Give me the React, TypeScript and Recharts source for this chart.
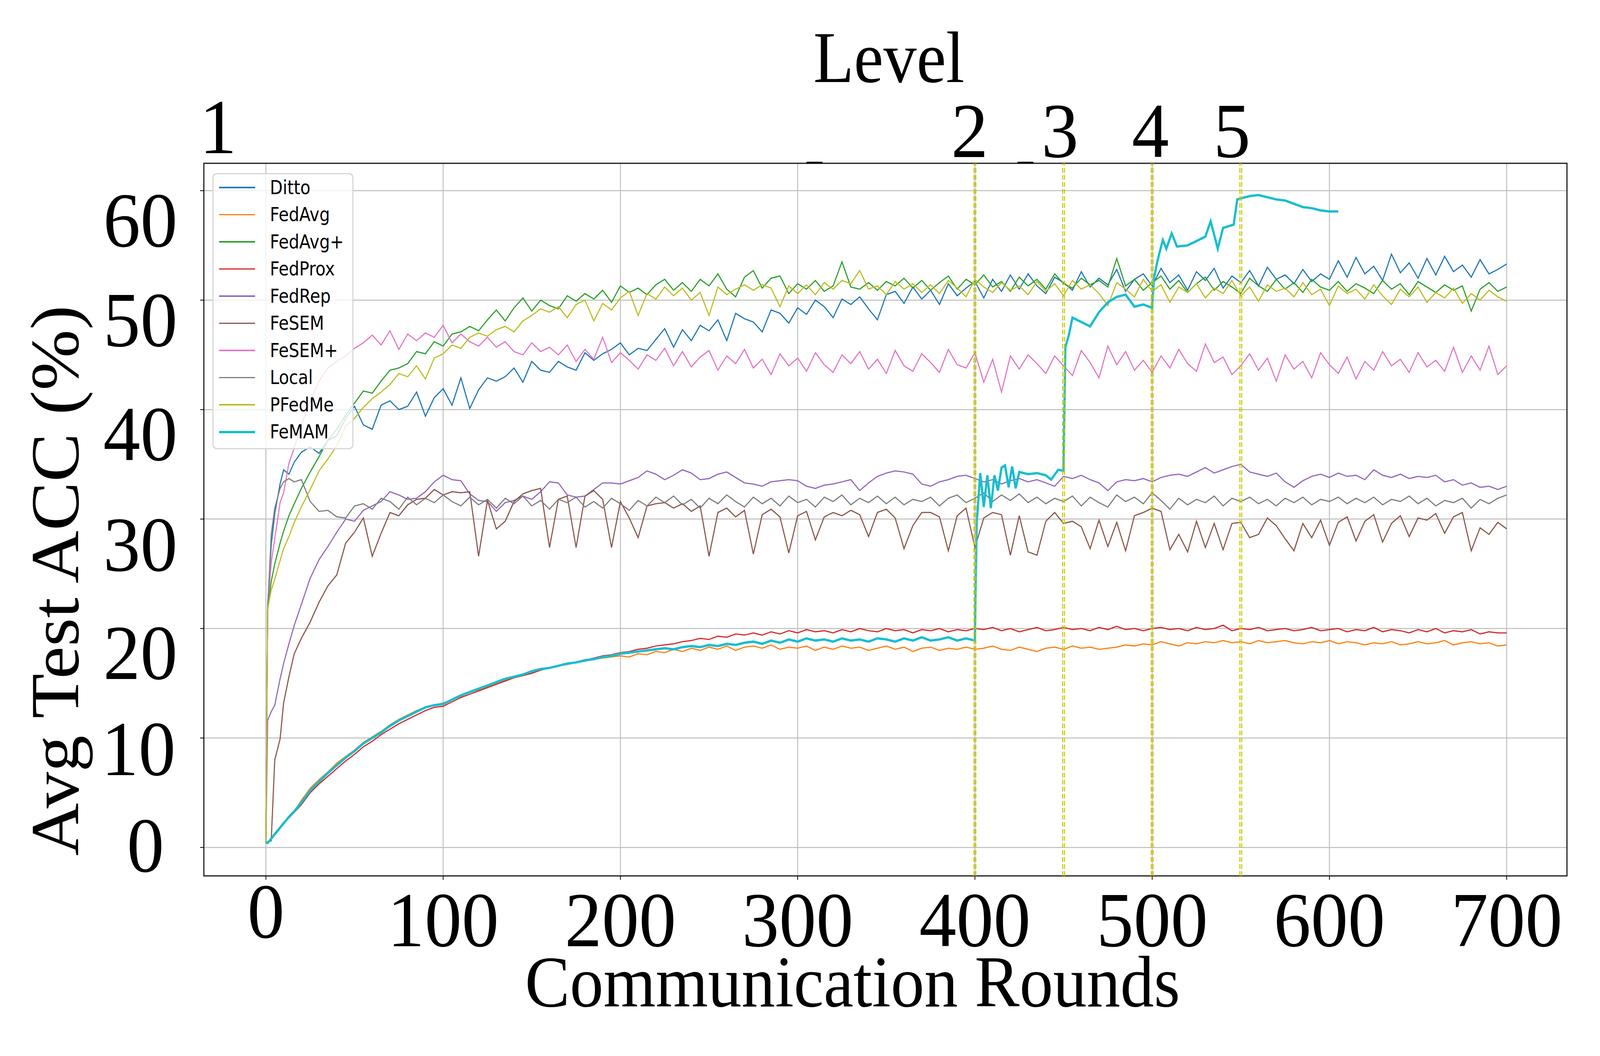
import React from 'react';
import {
  LineChart, Line, XAxis, YAxis, CartesianGrid, ReferenceLine, ReferenceArea, Legend
} from 'recharts';

const W = 4309;
const H = 2703;
const SERIF = '"Liberation Serif", "Times New Roman", Times, serif';
const SANS = '"DejaVu Sans", Verdana, sans-serif';

// x positions (communication rounds)
const earlyRounds = [0, 1, 3, 5, 8, 10, 13, 16, 20];
const rounds = [...earlyRounds, ...Array.from({ length: 136 }, (_, i) => 25 + 5 * i)];
const femamLateRounds = [
  400, 401, 403, 405, 407, 409, 411, 413, 415, 417, 419, 421, 423, 425, 430, 435, 440, 443, 447, 450,
  451, 453, 455, 460, 465, 470, 475, 480, 485, 490, 495, 500,
  501, 503, 506, 508, 511, 514, 520, 525, 530, 533, 537, 540, 546, 548, 550, 555, 560, 565, 570, 575,
  580, 585, 590, 595, 600, 605,
];
const femamRounds = [...rounds.filter((r) => r <= 395), ...femamLateRounds];

const xTicks = [0, 100, 200, 300, 400, 500, 600, 700];
const yTicks = [0, 10, 20, 30, 40, 50, 60];
const levelTicks = [-27, 397, 448, 499, 545];
const levelLabels = ['1', '2', '3', '4', '5'];
const levelLines = [400, 450, 500, 550];
// two short dark marks sitting on the top spine
const topMarks = [[305, 314], [424, 433]];

// avg test accuracy (%) per method
const ditto = [
  0.4, 22.1, 27.6, 30.5, 33.2, 34.5, 34.1, 35.2, 36.1,
  36.6, 36.0, 37.2, 37.6, 39.2, 40.3, 38.6, 38.2, 40.4, 40.8,
  40.0, 40.3, 41.6, 39.4, 41.1, 41.9, 40.4, 42.9, 40.1, 41.8,
  42.9, 42.6, 43.0, 43.8, 42.5, 44.4, 43.6, 43.4, 44.4, 43.9,
  43.6, 45.2, 44.5, 45.1, 45.5, 46.1, 45.0, 45.6, 45.4, 46.4,
  47.4, 45.7, 47.3, 46.3, 47.7, 47.2, 48.2, 46.3, 48.8, 48.3,
  48.0, 47.1, 49.1, 48.8, 47.9, 49.3, 48.7, 50.0, 49.4, 48.4,
  50.1, 49.6, 50.3, 49.2, 48.2, 50.5, 50.8, 49.7, 51.2, 50.1,
  50.9, 49.6, 51.5, 50.4, 51.1, 51.7, 50.2, 51.9, 50.8, 52.3,
  51.0, 52.4, 51.3, 50.6, 52.1, 51.6, 50.9, 52.6, 51.2, 52.0,
  51.4, 52.8, 50.8, 51.9, 52.4, 51.3, 52.9, 51.6, 52.3, 50.9,
  52.6, 51.8, 52.9, 51.1, 52.2, 51.6, 52.7, 51.3, 53.0, 51.9,
  52.3, 51.5, 52.8, 51.7, 52.4, 51.9, 53.6, 52.1, 53.9, 52.4,
  53.1, 51.8, 54.2, 52.5, 53.4, 52.0, 53.8, 52.3, 54.0, 52.6,
  53.2, 52.1, 53.7, 52.4, 52.8, 53.3,
];

const fedAvg = [
  0.5, 0.4, 0.9, 1.3, 1.9, 2.3, 2.8, 3.3, 4.3,
  5.4, 6.2, 6.9, 7.7, 8.3, 8.9, 9.6, 10.1, 10.6, 11.2,
  11.7, 12.1, 12.5, 12.8, 13.0, 13.2, 13.5, 13.8, 14.2, 14.4,
  14.7, 15.0, 15.3, 15.6, 15.8, 16.0, 16.2, 16.4, 16.6, 16.7,
  16.9, 17.0, 17.2, 17.3, 17.4, 17.5, 17.4, 17.7, 17.6, 17.9,
  17.8, 18.1, 17.9, 18.2, 18.0, 18.3, 18.1, 18.4, 18.0, 18.3,
  18.4, 18.2, 18.5, 18.1, 18.3, 18.2, 18.4, 18.0, 18.3, 18.1,
  18.4, 18.2, 18.3, 18.0, 18.2, 18.4, 18.1, 18.3, 17.9, 18.2,
  18.3, 18.0, 18.2, 18.1, 18.3, 18.1, 18.2, 18.4, 18.1, 18.0,
  18.3, 18.1, 17.9, 18.2, 18.3, 18.1, 18.4, 18.2, 18.3, 18.1,
  18.2, 18.3, 18.5, 18.4, 18.6, 18.5, 18.8, 18.6, 18.4, 18.7,
  18.6, 18.8, 18.7, 18.9, 18.7, 18.8, 18.6, 18.9, 18.7, 18.8,
  18.9, 18.7, 18.6, 18.8, 18.7, 18.9, 18.6, 18.8, 18.7, 18.5,
  18.7, 18.6, 18.8, 18.5, 18.6, 18.8, 18.6, 18.7, 18.9, 18.5,
  18.7, 18.8, 18.6, 18.7, 18.4, 18.5,
];

const fedAvgPlus = [
  0.4, 21.6, 24.3, 25.9, 27.8, 28.9, 30.3, 31.4, 32.8,
  34.3, 35.7, 37.2, 38.2, 39.5, 40.6, 41.7, 41.5, 42.6, 43.6,
  43.8, 44.2, 45.3, 45.1, 46.2, 45.8, 46.9, 47.1, 47.6, 47.2,
  48.2, 49.1, 48.1, 49.3, 50.2, 49.0, 50.0, 49.5, 49.2, 50.4,
  49.9, 50.6, 50.1, 50.9, 49.8, 51.3, 50.7, 51.1, 50.5, 51.4,
  51.9, 50.9, 51.6, 50.8, 51.9, 51.3, 52.4, 51.0, 50.3, 52.1,
  52.7, 51.1, 52.0, 52.2, 50.6, 51.5, 51.0, 51.8, 50.8, 51.3,
  53.5, 51.2, 51.0, 51.6, 50.9, 51.7, 51.3, 52.0, 51.1, 51.8,
  50.9, 51.6, 52.2, 51.0, 51.9, 51.4, 52.3, 51.2, 51.7, 50.8,
  52.1, 51.3, 51.9, 51.0, 52.4, 51.5, 51.1, 52.0, 51.4, 51.8,
  51.2, 53.8, 51.3, 51.9, 50.9, 51.6, 52.2, 51.0, 51.8, 50.7,
  51.5, 52.1, 50.9, 51.7, 51.2, 50.6, 52.0, 51.3, 50.8, 51.9,
  51.0, 51.6, 50.7, 51.9, 51.2, 50.9, 51.7, 50.8, 51.5, 51.1,
  50.6, 51.8, 51.0, 51.5, 50.5, 51.7, 51.2, 50.7, 51.4, 50.9,
  51.3, 49.0, 51.0, 51.6, 50.8, 51.2,
];

const fedProx = [
  0.5, 0.4, 0.8, 1.2, 1.8, 2.2, 2.7, 3.2, 3.9,
  5.0, 5.8, 6.5, 7.2, 7.9, 8.5, 9.2, 9.7, 10.3, 10.8,
  11.3, 11.7, 12.1, 12.5, 12.8, 12.9, 13.3, 13.7, 14.0, 14.3,
  14.6, 14.9, 15.2, 15.5, 15.7, 15.9, 16.2, 16.4, 16.6, 16.8,
  16.9, 17.1, 17.3, 17.5, 17.6, 17.8, 17.9, 18.1, 18.2, 18.4,
  18.5, 18.6, 18.8, 18.9, 19.1, 19.0, 19.3, 19.2, 19.5, 19.4,
  19.6, 19.4, 19.7, 19.5, 19.8, 19.6, 19.9, 19.7, 19.8, 19.6,
  19.9, 19.7, 20.0, 19.8, 19.7, 20.0, 19.8, 19.9, 19.6, 19.9,
  19.8, 20.0, 19.7, 19.9, 19.8, 20.0, 19.9, 20.1, 19.8, 20.0,
  19.7, 19.9, 20.1, 19.8, 19.9, 20.1, 19.9, 20.0, 19.8, 20.1,
  19.9, 20.2, 19.9, 20.0, 19.8, 20.0, 20.1, 19.9, 20.0, 19.8,
  20.1, 19.9, 20.0, 20.3, 19.8, 20.0, 19.9, 20.1, 19.8, 19.9,
  20.0, 19.8, 19.9, 20.1, 19.8, 19.9, 20.0, 19.7, 19.9, 19.8,
  20.1, 19.7, 19.9, 19.8, 19.6, 19.9, 19.7, 20.0, 19.6, 19.8,
  19.7, 19.9, 19.5, 19.7, 19.6, 19.6,
];

const fedRep = [
  0.4, 11.6, 12.4, 13.0, 15.4, 16.8, 18.6, 20.3, 22.2,
  24.6, 26.3, 27.5, 28.8, 30.0, 29.8, 30.8, 31.2, 31.6, 32.5,
  32.2, 31.8, 31.9, 32.5, 33.4, 34.0, 33.6, 33.5, 32.3, 31.7,
  31.6, 30.7, 31.5, 31.7, 32.1, 31.8, 32.5, 33.4, 33.3, 32.2,
  32.0, 32.1, 32.7, 33.3, 33.3, 33.2, 33.5, 33.8, 34.4, 34.1,
  33.6, 34.0, 34.5, 34.2, 33.6, 33.7, 34.1, 34.3, 33.8, 33.3,
  33.2, 33.0, 33.4, 33.5, 33.6, 33.5, 33.0, 32.8, 33.1, 33.2,
  33.4, 33.6, 32.6, 33.3, 33.9, 34.2, 34.4, 34.3, 34.1, 33.2,
  33.0, 33.4, 33.6, 33.9, 34.0, 33.7, 33.4, 33.6, 33.2, 33.5,
  33.7, 33.4, 33.6, 33.3, 33.0, 33.9, 33.7, 34.0, 33.6, 33.3,
  32.6, 33.4, 33.6, 33.5, 33.7, 33.4, 33.8, 34.0, 34.1, 33.9,
  34.3, 34.7, 34.2, 34.5, 34.8, 35.0, 34.3, 34.1, 33.9, 34.2,
  33.4, 32.9, 33.5, 33.9, 34.1, 33.8, 34.2, 33.9, 34.0, 33.6,
  34.5, 34.0, 33.8, 34.1, 33.7, 33.9, 33.8, 34.0, 33.4, 33.6,
  33.1, 33.3, 32.9, 33.0, 32.7, 33.0,
];

const feSem = [
  0.4, 0.5, 0.6, 8.0, 9.9, 13.2, 15.6, 17.7, 19.1,
  20.6, 22.4, 23.9, 24.9, 27.8, 28.8, 30.1, 26.6, 28.7, 30.6,
  30.3, 31.3, 31.8, 31.9, 32.7, 32.2, 32.5, 32.4, 32.5, 26.6,
  31.7, 29.1, 29.8, 31.6, 32.3, 32.6, 32.8, 27.4, 31.8, 32.1,
  27.4, 32.1, 32.6, 31.8, 27.4, 31.6, 30.1, 28.3, 31.2, 31.4,
  31.5, 31.0, 31.4, 30.7, 31.2, 26.6, 30.6, 31.0, 30.2, 30.8,
  26.8, 30.4, 30.9, 30.2, 26.9, 30.3, 30.7, 28.1, 30.2, 30.6,
  30.3, 30.8, 30.4, 28.4, 30.6, 30.9, 30.1, 27.3, 29.4, 30.6,
  30.6, 30.2, 27.1, 30.3, 31.0, 27.4, 30.1, 30.6, 30.4, 26.7,
  30.3, 27.0, 26.7, 29.8, 30.6, 29.6, 29.8, 29.3, 27.3, 29.9,
  27.5, 29.7, 27.1, 30.3, 30.6, 31.0, 30.7, 27.2, 28.6, 27.0,
  29.8, 27.4, 29.6, 27.2, 29.6, 29.7, 28.3, 28.6, 30.1, 29.4,
  28.2, 27.1, 29.6, 28.3, 29.9, 27.6, 29.7, 30.2, 28.0, 29.8,
  30.4, 27.9, 29.6, 30.3, 28.4, 30.1, 29.9, 30.5, 28.7, 30.2,
  30.6, 27.1, 29.2, 28.6, 29.7, 29.1,
];

const feSemPlus = [
  0.4, 21.8, 26.0, 28.2, 31.5, 32.4, 35.1, 36.5, 38.6,
  40.8, 42.6, 43.8, 44.4, 44.9, 45.6, 46.1, 46.8, 45.9, 47.2,
  45.5, 46.9, 46.3, 47.0, 46.6, 47.7, 46.1, 46.9, 46.2, 45.8,
  46.6, 45.7, 46.2, 45.3, 45.0, 46.1, 45.3, 45.7, 45.0, 45.9,
  44.4, 45.5, 44.6, 46.6, 44.3, 45.2, 44.5, 43.7, 45.0, 44.5,
  45.6, 44.0, 45.3, 43.9, 44.8, 45.4, 43.6, 44.9, 44.2, 45.5,
  43.8, 44.6, 43.2, 45.1, 44.0, 44.7, 43.5, 45.2, 44.1, 43.4,
  45.0, 44.2, 45.3, 43.7, 44.6, 43.3, 45.4, 44.0, 43.5, 45.1,
  44.3, 43.4, 45.5, 44.1, 43.8, 45.2, 42.5, 44.6, 41.6, 44.9,
  43.7, 45.0, 44.2, 43.3, 44.9, 44.0, 43.1, 45.4, 44.3, 42.9,
  45.8, 44.1, 45.3, 43.6, 44.5, 43.4, 44.9, 43.8, 45.5, 44.2,
  43.5, 46.0, 44.3, 44.8, 43.2, 44.0, 45.1, 43.6, 44.7, 42.6,
  45.0, 43.7, 44.4, 42.9, 45.2, 44.1, 43.3, 44.8, 42.8, 44.4,
  43.6, 45.3, 44.0, 44.6, 43.4, 45.2, 43.9, 44.5, 43.5, 45.7,
  43.4, 44.9, 43.6, 45.8, 43.2, 44.0,
];

const local = [
  0.4, 21.6, 28.6, 31.0, 32.8, 33.4, 33.7, 33.4, 33.6,
  31.6, 30.7, 30.8, 30.2, 30.1, 31.2, 31.4, 30.9, 31.9, 31.6,
  30.9, 32.0, 31.3, 31.9, 31.5, 32.2, 31.6, 31.2, 32.0, 31.3,
  31.8, 31.0, 31.9, 31.4, 32.1, 31.2, 31.7, 30.9, 31.8, 31.5,
  32.0, 31.1, 31.6, 31.0, 31.9, 31.4, 30.8, 31.7, 31.2, 32.0,
  31.5, 32.1, 31.3, 31.8, 31.0, 31.9, 31.4, 32.2, 31.6, 31.1,
  32.0, 31.4, 31.9, 31.2, 32.1, 31.5, 31.8, 31.1, 32.0, 31.6,
  32.2, 31.3, 31.9, 31.5, 32.1, 31.4, 32.0, 31.3, 31.8, 31.6,
  32.0, 31.2, 31.9, 32.2, 31.5, 31.9, 32.4, 31.6, 32.2, 31.7,
  32.3, 31.5, 32.0, 31.4, 31.9, 31.6, 32.1, 31.2, 32.0, 31.5,
  31.1, 32.2, 31.6, 32.0, 31.4, 32.4, 31.7, 30.9, 31.9, 31.3,
  31.8, 31.5, 32.1, 31.2, 31.9, 31.6, 32.0, 31.4, 31.8, 31.2,
  31.9, 31.5, 32.0, 31.3, 31.8, 31.6, 32.0, 31.4, 31.9, 31.5,
  32.0, 31.3, 31.8, 31.6, 32.1, 31.4, 31.9, 31.2, 31.7, 31.5,
  31.9, 31.0, 31.8, 31.4, 31.9, 32.2,
];

const pFedMe = [
  0.4, 21.8, 23.5, 24.5, 26.2, 27.3, 28.4, 29.7, 31.1,
  32.7, 34.4, 35.5, 36.7, 38.5, 39.2, 40.2, 41.0, 41.6, 42.3,
  43.3, 43.0, 44.0, 42.8, 44.7, 45.1, 45.9, 45.6, 46.6, 47.0,
  46.7, 47.3, 47.6, 47.1, 48.1, 48.6, 49.2, 48.9, 49.4, 48.4,
  49.6, 50.0, 48.1, 49.7, 49.1, 50.2, 50.8, 48.6, 50.6, 50.1,
  51.2, 50.4, 51.1, 50.0, 50.7, 48.6, 51.2, 50.5, 51.0, 51.4,
  50.9, 51.4, 51.1, 49.4, 51.3, 50.6, 51.4, 50.5, 51.6, 51.0,
  51.8, 51.5, 52.7, 51.0, 51.3, 50.5, 51.7, 51.0, 51.5, 50.7,
  51.4, 50.6, 51.8, 51.1, 50.3, 51.9, 51.2, 50.7, 51.6, 50.9,
  51.3, 50.5, 51.7, 50.8, 51.5, 50.4, 51.8, 51.0, 51.4, 50.6,
  49.5, 51.6, 51.0, 50.3, 51.9, 50.8, 51.4, 49.8, 51.2, 50.7,
  51.5, 50.2, 51.1, 50.6, 51.8, 50.4, 51.2, 49.9, 51.4, 50.8,
  51.1, 50.3, 51.6, 50.5, 51.0, 49.5, 51.3, 50.6, 51.0, 50.1,
  51.4, 50.4, 49.6, 51.0, 50.3, 51.2, 49.8, 50.7, 50.2, 51.1,
  49.7, 50.6, 50.0, 50.9, 50.3, 49.9,
];

const feMam = [
  0.5, 0.4, 0.8, 1.2, 1.8, 2.2, 2.8, 3.3, 4.1,
  5.2, 6.0, 6.8, 7.5, 8.2, 8.8, 9.5, 10.0, 10.5, 11.1,
  11.6, 12.0, 12.4, 12.8, 13.0, 13.1, 13.5, 13.9, 14.2, 14.5,
  14.8, 15.1, 15.4, 15.6, 15.8, 16.1, 16.3, 16.4, 16.6, 16.8,
  16.9, 17.1, 17.2, 17.4, 17.5, 17.7, 17.8, 17.9, 18.0, 18.1,
  18.2, 18.1, 18.3, 18.4, 18.3, 18.5, 18.4, 18.6, 18.5, 18.7,
  18.8, 18.6, 18.9, 18.7, 19.0, 18.8, 19.1, 18.9, 19.0, 18.8,
  19.1, 18.9, 19.0, 18.8, 19.1, 19.0, 18.8, 19.1, 18.9, 19.2,
  18.9, 19.0, 19.2, 18.9, 19.1,
  // from round 400 on (femamLateRounds)
  18.9, 29.6, 34.2, 31.1, 34.0, 31.0, 34.0, 32.6, 34.7, 34.9, 32.9, 34.8, 32.8, 34.3, 34.1, 34.2, 34.0, 33.6, 34.5, 34.4,
  45.7, 46.8, 48.4, 48.0, 47.6, 48.9, 49.8, 50.3, 50.5, 49.4, 49.6, 49.3,
  52.0, 53.6, 55.5, 54.7, 56.1, 54.9, 55.0, 55.4, 55.8, 57.2, 54.7, 56.6, 56.9, 59.2, 59.3, 59.5, 59.6, 59.4, 59.2, 59.1,
  58.8, 58.5, 58.4, 58.2, 58.1, 58.1,
];

const toPoints = (xs: number[], vs: number[]) =>
  xs.map((r, i) => ({ r, v: vs[i] })).filter((p) => p.v !== undefined);

const series = [
  { name: 'Ditto', color: '#1f77b4', width: 3, data: toPoints(rounds, ditto) },
  { name: 'FedAvg', color: '#ff7f0e', width: 3, data: toPoints(rounds, fedAvg) },
  { name: 'FedAvg+', color: '#2ca02c', width: 3, data: toPoints(rounds, fedAvgPlus) },
  { name: 'FedProx', color: '#d62728', width: 3, data: toPoints(rounds, fedProx) },
  { name: 'FedRep', color: '#9467bd', width: 3, data: toPoints(rounds, fedRep) },
  { name: 'FeSEM', color: '#8c564b', width: 3, data: toPoints(rounds, feSem) },
  { name: 'FeSEM+', color: '#e377c2', width: 3, data: toPoints(rounds, feSemPlus) },
  { name: 'Local', color: '#7f7f7f', width: 3, data: toPoints(rounds, local) },
  { name: 'PFedMe', color: '#bcbd22', width: 3, data: toPoints(rounds, pFedMe) },
  { name: 'FeMAM', color: '#17becf', width: 6, data: toPoints(femamRounds, feMam) },
];

// plot box in page pixels
const PLOT = { left: 549, top: 418, right: 4220, bottom: 2242 };
const X_DOMAIN: [number, number] = [-35, 734];
const Y_DOMAIN: [number, number] = [-2.6, 62.5];

// small per-label nudges of the y tick text, in px
const yLabelDy: Record<number, number> = { 0: -6, 10: 27, 20: 62, 30: 65, 40: 62, 50: 50, 60: 75 };
const yLabelDx: Record<number, number> = { 0: -36, 10: -5 };

// the page can report a narrower css viewport than the window: stretch the figure to fill it
if (typeof document !== 'undefined') {
  document.documentElement.style.overflow = 'hidden';
  document.body.style.margin = '0';
  document.body.style.overflow = 'hidden';
}
const sx = typeof window !== 'undefined' ? Math.min(1, window.innerWidth / W) : 1;
const sy = typeof window !== 'undefined' ? Math.min(1, window.innerHeight / H) : 1;

const XTick = (props: any) => {
  const { x, payload } = props;
  const v = payload.value;
  return (
    <text x={x} y={v === 0 ? 2400 : 2422} textAnchor="middle" fontFamily={SERIF} fontSize={200} fill="#000">
      {v}
    </text>
  );
};

const YTick = (props: any) => {
  const { y, payload } = props;
  const v = payload.value;
  return (
    <text
      x={478 + (yLabelDx[v] || 0)}
      y={y + (yLabelDy[v] || 0)}
      textAnchor="end"
      dominantBaseline="central"
      fontFamily={SERIF}
      fontSize={200}
      fill="#000"
    >
      {v}
    </text>
  );
};

const LevelTick = (props: any) => {
  const { x, payload } = props;
  const i = levelTicks.indexOf(payload.value);
  return (
    <text x={x} y={i === 0 ? 392 : 402} textAnchor="middle" fontFamily={SERIF} fontSize={200} fill="#000">
      {levelLabels[i]}
    </text>
  );
};

const LegendBox = () => (
  <div
    style={{
      position: 'relative',
      width: 380,
      height: 707,
      boxSizing: 'border-box',
      border: '3px solid #d6d6d6',
      borderRadius: 12,
      background: 'rgba(255,255,255,0.8)',
    }}
  >
    {series.map((s, i) => {
      const cy = 34 + 69.5 * i;
      const lw = s.width === 6 ? 6 : 3.6;
      return (
        <React.Fragment key={s.name}>
          <div
            style={{
              position: 'absolute',
              left: 15,
              top: cy - lw / 2,
              width: 97,
              height: lw,
              background: s.color,
            }}
          />
          <div
            style={{
              position: 'absolute',
              left: 152,
              top: cy - 24.5,
              height: 49,
              lineHeight: '49px',
              fontFamily: SANS,
              fontSize: 49,
              color: '#000',
              whiteSpace: 'nowrap',
              transform: 'scaleX(0.91)',
              transformOrigin: 'left center',
            }}
          >
            {s.name}
          </div>
        </React.Fragment>
      );
    })}
  </div>
);

export default function App() {
  return (
    <div
      style={{
        position: 'absolute',
        left: 0,
        top: 0,
        width: Math.floor(W * sx),
        height: Math.floor(H * sy),
        overflow: 'hidden',
        background: '#fff',
      }}
    >
      <div
        style={{
          position: 'absolute',
          left: 0,
          top: 0,
          width: W,
          height: H,
          transform: `scale(${sx}, ${sy})`,
          transformOrigin: '0 0',
        }}
      >
        <LineChart width={W} height={H} margin={{ top: 0, left: 0, right: W - PLOT.right, bottom: 0 }}>
          <CartesianGrid stroke="#bdbdbd" strokeWidth={2.5} />
          <XAxis
            dataKey="r"
            type="number"
            domain={X_DOMAIN}
            allowDataOverflow
            ticks={xTicks}
            height={H - PLOT.bottom}
            axisLine={false}
            tickLine={{ stroke: '#000', strokeWidth: 2 }}
            tickSize={10}
            tick={XTick}
            label={{
              value: 'Communication Rounds',
              content: () => (
                <text
                  x={2296}
                  y={2576}
                  textAnchor="middle"
                  fontFamily={SERIF}
                  fontSize={186}
                  textLength={1764}
                  lengthAdjust="spacingAndGlyphs"
                  fill="#000"
                >
                  Communication Rounds
                </text>
              ),
            }}
          />
          <XAxis
            xAxisId="top"
            orientation="top"
            dataKey="r"
            type="number"
            domain={X_DOMAIN}
            allowDataOverflow
            ticks={levelTicks}
            height={PLOT.top}
            axisLine={false}
            tickLine={false}
            tick={LevelTick}
            label={{
              value: 'Level',
              content: () => (
                <text
                  x={2394}
                  y={210}
                  textAnchor="middle"
                  fontFamily={SERIF}
                  fontSize={186}
                  textLength={407}
                  lengthAdjust="spacingAndGlyphs"
                  fill="#000"
                >
                  Level
                </text>
              ),
            }}
          />
          <YAxis
            type="number"
            domain={Y_DOMAIN}
            allowDataOverflow
            ticks={yTicks}
            width={PLOT.left}
            axisLine={false}
            tickLine={{ stroke: '#000', strokeWidth: 2 }}
            tickSize={10}
            tick={YTick}
            label={{
              value: 'Avg Test ACC (%)',
              content: () => (
                <text
                  x={210}
                  y={1486}
                  transform="rotate(-90 210 1486)"
                  textAnchor="middle"
                  fontFamily={SERIF}
                  fontSize={186}
                  textLength={1409}
                  lengthAdjust="spacingAndGlyphs"
                  fill="#000"
                >
                  Avg Test ACC (%)
                </text>
              ),
            }}
          />
          {series.map((s) => (
            <Line
              key={s.name}
              data={s.data}
              dataKey="v"
              name={s.name}
              type="linear"
              stroke={s.color}
              strokeWidth={s.width}
              dot={false}
              activeDot={false}
              isAnimationActive={false}
            />
          ))}
          {levelLines.flatMap((x) =>
            [-0.52, 0.52].map((d) => (
              <ReferenceLine
                key={`${x}-${d}`}
                x={x + d}
                stroke="#c8c800"
                strokeWidth={2.8}
                strokeDasharray="12 6"
                ifOverflow="visible"
              />
            ))
          )}
          <ReferenceArea
            x1={X_DOMAIN[0]}
            x2={X_DOMAIN[1]}
            y1={Y_DOMAIN[0]}
            y2={Y_DOMAIN[1]}
            fill="none"
            fillOpacity={0}
            stroke="#1a1a1a"
            strokeWidth={3}
            ifOverflow="visible"
          />
          {topMarks.map(([a, b]) => (
            <ReferenceLine
              key={`mark-${a}`}
              segment={[{ x: a, y: 62.55 }, { x: b, y: 62.55 }]}
              stroke="#000"
              strokeWidth={5}
              ifOverflow="visible"
            />
          ))}
          <Legend
            layout="horizontal"
            verticalAlign="middle"
            align="center"
            wrapperStyle={{ left: 572, top: 443, width: 380, height: 707 }}
            content={() => <LegendBox />}
          />
        </LineChart>
      </div>
    </div>
  );
}
